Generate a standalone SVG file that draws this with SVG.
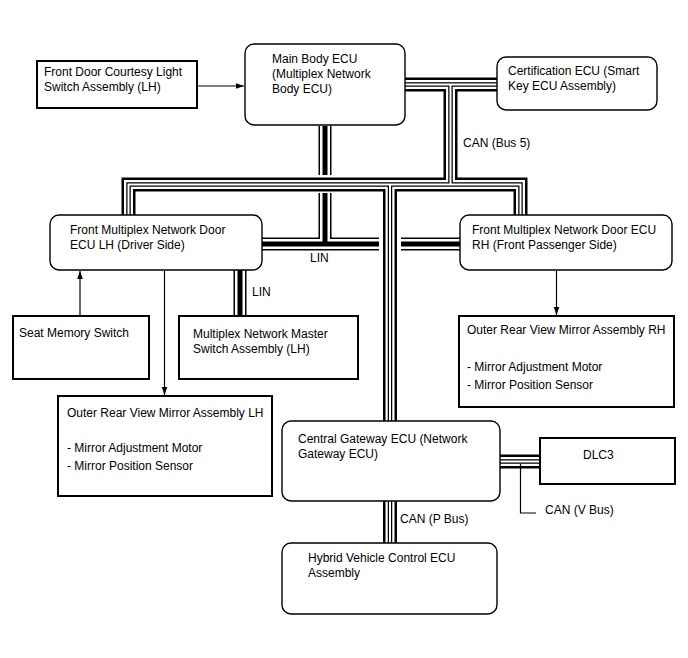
<svg xmlns="http://www.w3.org/2000/svg" xmlns:xlink="http://www.w3.org/1999/xlink" width="688" height="658" viewBox="0 0 688 658">
<style>
text{font-family:"Liberation Sans",Arial,sans-serif;font-size:12px;fill:#000}
.rr{fill:#fff;stroke:#000;stroke-width:1.4}
.bx{fill:#fff;stroke:#000;stroke-width:2}
.wire{fill:none;stroke:#000;stroke-width:1.2}
.k1{fill:none;stroke:#000;stroke-width:14;stroke-linejoin:miter;stroke-linecap:butt}
.k2{fill:none;stroke:#fff;stroke-width:9;stroke-linejoin:miter;stroke-linecap:butt}
.k3{fill:none;stroke:#000;stroke-width:4.5;stroke-linejoin:miter;stroke-linecap:butt}
.k4{fill:none;stroke:#fff;stroke-width:2;stroke-linejoin:miter;stroke-linecap:butt}
.l1{fill:none;stroke:#000;stroke-width:13;stroke-linecap:butt}
.l2{fill:none;stroke:#fff;stroke-width:10;stroke-linecap:butt}
.l3{fill:none;stroke:#000;stroke-width:5;stroke-linecap:butt}
</style>
<defs>
<marker id="arr" viewBox="0 0 10 10" refX="10" refY="5" markerWidth="8" markerHeight="8" orient="auto" markerUnits="userSpaceOnUse"><path d="M0,1.5 L10,5 L0,8.5 z" fill="#000"/></marker>
<path id="can" d="M405,84.5 H497 M450.5,84.5 V184.5 M128.5,215 V184.5 H520.5 V215 M390,184.5 V421 M390,500 V543 M500,461.5 H540"/>
<path id="lin" d="M262,244 H379 M401,244 H460 M325,126 V175 M325,193 V244 M240,270 V316"/>
</defs>
<g id="connectors">
<use xlink:href="#lin" class="l1"/>
<use xlink:href="#lin" class="l2"/>
<use xlink:href="#lin" class="l3"/>
<use xlink:href="#can" class="k1"/>
<use xlink:href="#can" class="k2"/>
<use xlink:href="#can" class="k3"/>
<use xlink:href="#can" class="k4"/>
<path class="wire" d="M520.5,464 V513 H536"/>
<line class="wire" x1="197" y1="86" x2="244" y2="86" marker-end="url(#arr)"/>
<line class="wire" x1="80" y1="316" x2="80" y2="271" marker-end="url(#arr)"/>
<line class="wire" x1="164.5" y1="271" x2="164.5" y2="395" marker-end="url(#arr)"/>
<line class="wire" x1="556.5" y1="271" x2="556.5" y2="315" marker-end="url(#arr)"/>
<text x="463" y="147">CAN (Bus 5)</text>
<text x="310" y="262">LIN</text>
<text x="252" y="296">LIN</text>
<text x="545" y="514">CAN (V Bus)</text>
<text x="400" y="523">CAN (P Bus)</text>
</g>
<g id="courtesy"><rect class="bx" x="37" y="61" width="160" height="47"/><text x="44" y="76">Front Door Courtesy Light</text><text x="44" y="91">Switch Assembly (LH)</text></g>
<g id="mainbody"><rect class="rr" x="245" y="44" width="160" height="81" rx="9"/><text x="272" y="63">Main Body ECU</text><text x="272" y="78">(Multiplex Network</text><text x="272" y="93">Body ECU)</text></g>
<g id="cert"><rect class="rr" x="497" y="57" width="160" height="53" rx="9"/><text x="508" y="75">Certification ECU (Smart</text><text x="508" y="90">Key ECU Assembly)</text></g>
<g id="doorlh"><rect class="rr" x="50" y="215" width="212" height="55" rx="9"/><text x="70" y="234">Front Multiplex Network Door</text><text x="70" y="249">ECU LH (Driver Side)</text></g>
<g id="doorrh"><rect class="rr" x="460" y="215" width="212" height="55" rx="9"/><text x="472" y="234">Front Multiplex Network Door ECU</text><text x="472" y="249">RH (Front Passenger Side)</text></g>
<g id="seat"><rect class="bx" x="13" y="316" width="136" height="63"/><text x="19" y="337">Seat Memory Switch</text></g>
<g id="master"><rect class="bx" x="179" y="316" width="179" height="63"/><text x="193" y="338">Multiplex Network Master</text><text x="193" y="353">Switch Assembly (LH)</text></g>
<g id="mirrorrh"><rect class="bx" x="459" y="316" width="215" height="91"/><text x="467" y="334">Outer Rear View Mirror Assembly RH</text><text x="467" y="371">- Mirror Adjustment Motor</text><text x="467" y="389">- Mirror Position Sensor</text></g>
<g id="mirrorlh"><rect class="bx" x="58" y="396" width="214" height="100"/><text x="67" y="417">Outer Rear View Mirror Assembly LH</text><text x="67" y="452">- Mirror Adjustment Motor</text><text x="67" y="470">- Mirror Position Sensor</text></g>
<g id="gateway"><rect class="rr" x="282" y="421" width="218" height="80" rx="9"/><text x="298" y="443">Central Gateway ECU (Network</text><text x="298" y="458">Gateway ECU)</text></g>
<g id="dlc3"><rect class="bx" x="540" y="438" width="135" height="46"/><text x="583" y="459">DLC3</text></g>
<g id="hybrid"><rect class="rr" x="282" y="543" width="215" height="71" rx="9"/><text x="308" y="562">Hybrid Vehicle Control ECU</text><text x="308" y="577">Assembly</text></g>
</svg>
